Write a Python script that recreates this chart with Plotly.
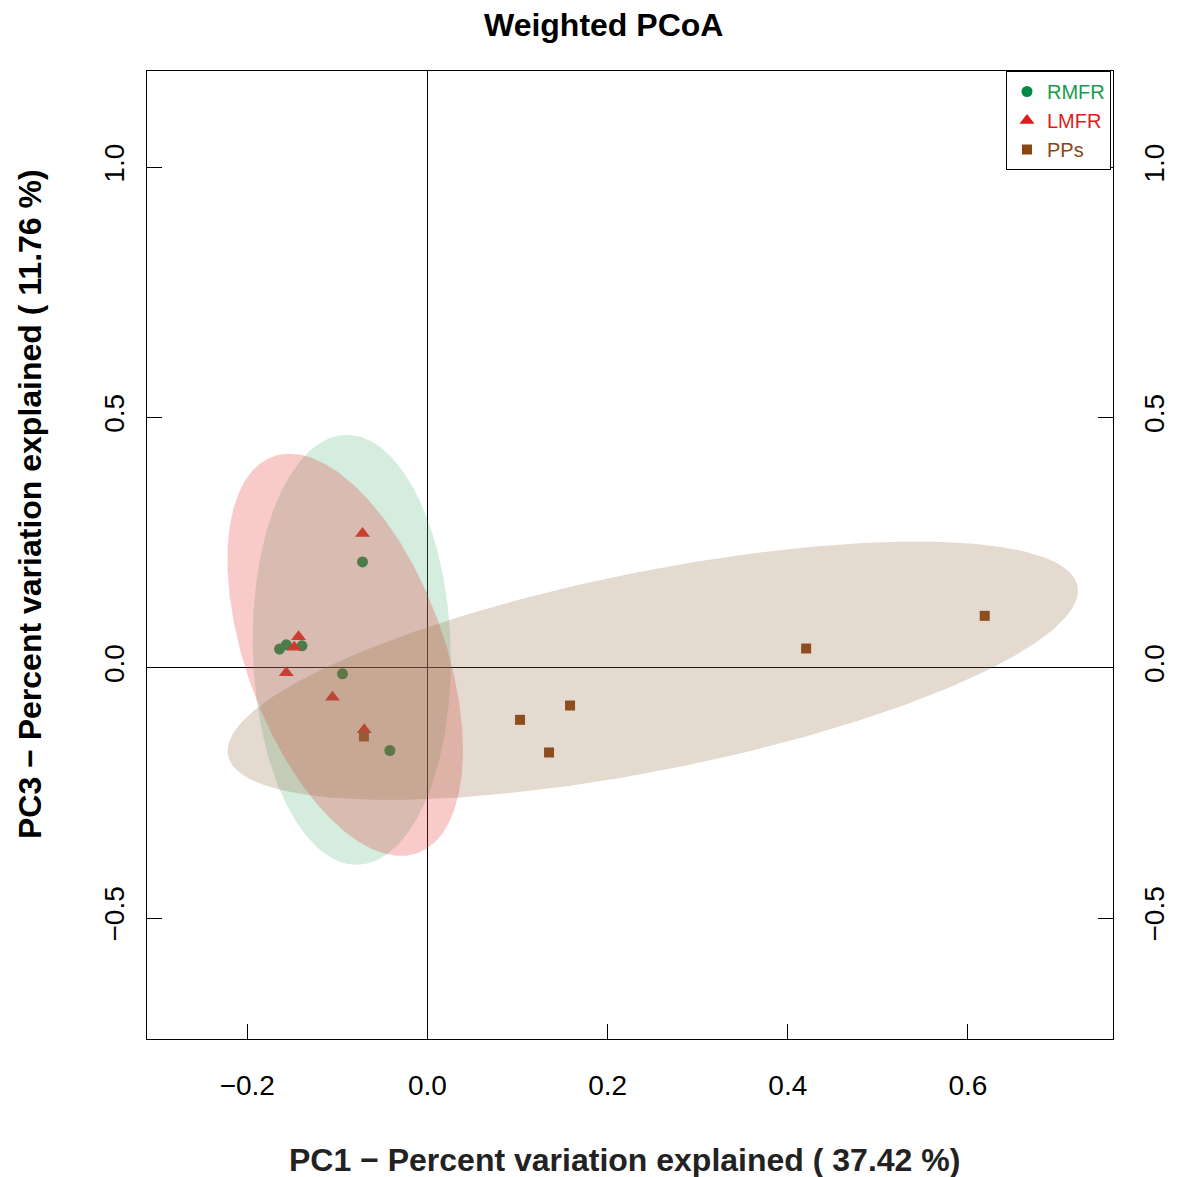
import numpy as np
import plotly.graph_objects as go

# ---------------- data ----------------
groups = ["RMFR", "LMFR", "PPs"]

rmfr_pc1 = [-0.0721, -0.1642, -0.1567, -0.1393, -0.0943, -0.0417]
rmfr_pc3 = [0.2117, 0.0374, 0.0459, 0.0439, -0.0120, -0.1652]

lmfr_pc1 = [-0.0721, -0.1431, -0.1479, -0.1567, -0.1054, -0.0702]
lmfr_pc3 = [0.2683, 0.0619, 0.0410, -0.0100, -0.0589, -0.1239]

pps_pc1 = [-0.0705, 0.1028, 0.1583, 0.1350, 0.4204, 0.6186]
pps_pc3 = [-0.1372, -0.1039, -0.0753, -0.1692, 0.0386, 0.1039]

# ellipse summaries (centre, half-extent along x / y, correlation), per group
ell_cx = [-0.0840, -0.0913, 0.2501]
ell_cy = [0.0360, 0.0260, -0.0058]
ell_sx = [0.1100, 0.1307, 0.4720]
ell_sy = [0.4295, 0.4019, 0.2581]
ell_rho = [-0.049, -0.473, 0.620]

x_ticks = [-0.2, 0.0, 0.2, 0.4, 0.6]
x_ticktext = ["\u22120.2", "0.0", "0.2", "0.4", "0.6"]
y_ticks = [-0.5, 0.0, 0.5, 1.0]
y_ticktext = ["\u22120.5", "0.0", "0.5", "1.0"]

title_text = "Weighted PCoA"
x_title = "PC1 \u2212 Percent variation explained ( 37.42 %)"
y_title = "PC3 \u2212 Percent variation explained ( 11.76 %)"

# ---------------- styles ----------------
point_colors = ["#008b45", "#e31a1c", "#8b4513"]
legend_text_colors = ["#1a9a4e", "#e31a1c", "#8b4513"]
symbols = ["circle", "triangle-up", "square"]
sizes = [11, 13, 10]
fill_colors = ["rgba(83,183,123,0.25)", "rgba(230,50,50,0.26)", "rgba(147,107,67,0.25)"]
FONT = "Liberation Sans, Arial, sans-serif"

W, H = 1183, 1177
ML, MR, MT, MB = 147, 70, 71, 138

fig = go.Figure()

pts = [(rmfr_pc1, rmfr_pc3), (lmfr_pc1, lmfr_pc3), (pps_pc1, pps_pc3)]
for i, g in enumerate(groups):
    xs, ys = pts[i]
    fig.add_trace(go.Scatter(
        x=xs, y=ys, mode="markers",
        name=f"<span style='color:{legend_text_colors[i]}'>{g}</span>",
        marker=dict(symbol=symbols[i], size=sizes[i], color=point_colors[i],
                    line=dict(width=0)),
        hoverinfo="skip",
    ))

t = np.linspace(0, 2 * np.pi, 361)
for i, g in enumerate(groups):
    ex = ell_cx[i] + ell_sx[i] * np.cos(t)
    ey = ell_cy[i] + ell_sy[i] * (ell_rho[i] * np.cos(t)
                                   + np.sqrt(1 - ell_rho[i] ** 2) * np.sin(t))
    fig.add_trace(go.Scatter(
        x=ex, y=ey, mode="lines", fill="toself",
        fillcolor=fill_colors[i], line=dict(width=0, color="rgba(0,0,0,0)"),
        showlegend=False, hoverinfo="skip",
    ))

# invisible trace on right axis so it renders
fig.add_trace(go.Scatter(x=[0], y=[0], yaxis="y2", mode="markers",
                         marker=dict(opacity=0), showlegend=False, hoverinfo="skip"))

common_axis = dict(showgrid=False, ticks="inside", ticklen=15, tickwidth=1,
                   tickcolor="black", showline=True, linecolor="black", linewidth=1,
                   automargin=False,
                   tickfont=dict(family=FONT, size=28, color="black"))

pw = W - ML - MR
ph = H - MT - MB

fig.update_layout(
    width=W, height=H, autosize=False,
    margin=dict(l=ML, r=MR, t=MT, b=MB, pad=0, autoexpand=False),
    paper_bgcolor="white", plot_bgcolor="white",
    showlegend=True,
    xaxis=dict(range=[-0.3113, 0.761], tickvals=x_ticks, ticktext=x_ticktext,
               zeroline=True, zerolinecolor="black", zerolinewidth=1,
               mirror=True, ticklabelstandoff=21, **common_axis),
    yaxis=dict(range=[-0.7417, 1.1926], tickvals=y_ticks, ticktext=y_ticktext,
               zeroline=True, zerolinecolor="black", zerolinewidth=1,
               mirror=True, tickangle=-90, ticklabelstandoff=11, **common_axis),
    yaxis2=dict(range=[-0.7417, 1.1926], tickvals=y_ticks, ticktext=y_ticktext,
                overlaying="y", side="right", zeroline=False,
                tickangle=-90, ticklabelstandoff=16, **common_axis),
    legend=dict(x=(1111 - ML) / pw, xanchor="right", y=1, yanchor="top",
                bgcolor="white", bordercolor="black", borderwidth=1,
                font=dict(family=FONT, size=20), itemsizing="trace",
                tracegroupgap=0),
)


def ann(text, px, py, size, angle=0, color="black"):
    return dict(text=text, xref="paper", yref="paper",
                x=(px - ML) / pw, y=1 - (py - MT) / ph,
                xanchor="center", yanchor="middle", showarrow=False,
                textangle=angle,
                font=dict(family=FONT, size=size, color=color, weight="bold"))


fig.update_layout(annotations=[
    ann(title_text, 603, 25, 32),
    ann(x_title, 624, 1160, 32, color="#222222"),
    ann(y_title, 30, 504, 32, angle=-90),
])

fig.write_html("out.html")
